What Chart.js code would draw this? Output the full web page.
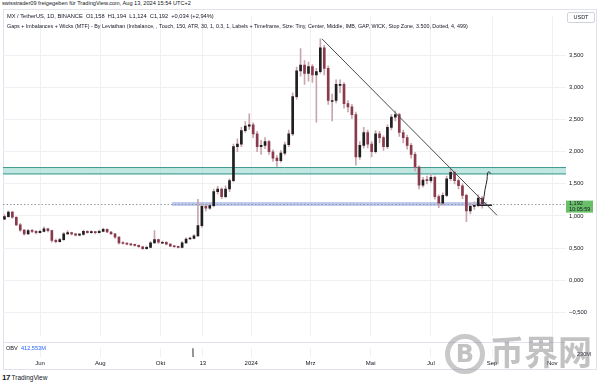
<!DOCTYPE html>
<html><head><meta charset="utf-8">
<script src="https://cdn.jsdelivr.net/npm/chart.js@4.4.1/dist/chart.umd.min.js"></script>
<style>
body{margin:0;background:#fff;}
#wrap{position:relative;width:600px;height:384px;overflow:hidden;background:#fff;font-family:"Liberation Sans",Arial,sans-serif;color:#131722;}
.t{position:absolute;white-space:nowrap;line-height:1;}
#frame{position:absolute;left:3px;top:9px;width:594px;height:361px;border:1px solid #e0e3eb;box-sizing:border-box;}
#sep{position:absolute;left:3px;top:342px;width:563px;height:1px;background:#e0e3eb;}
#usdt{position:absolute;left:567px;top:12px;width:28px;height:11px;border:1px solid #d1d4dc;border-radius:2px;box-sizing:border-box;font-size:5.5px;text-align:center;line-height:9px;background:#fff;}
#main{position:absolute;left:0;top:10px;}
#obv{position:absolute;left:0;top:342px;}
#wm{position:absolute;left:445px;top:332px;color:rgba(120,120,120,0.45);}
</style></head>
<body><div id="wrap">
<div id="frame"></div>
<canvas id="main" width="600" height="332"></canvas>
<canvas id="obv" width="600" height="27"></canvas>
<div id="sep"></div>
<div class="t" style="left:2px;top:1px;font-size:5.6px;">swisstrader09 freigegeben für TradingView.com, Aug 13, 2024 15:54 UTC+2</div>
<div class="t" style="left:7px;top:14px;font-size:5.7px;">MX / TetherUS, 1D, BINANCE&nbsp; O1,158&nbsp; H1,194&nbsp; L1,124&nbsp; C1,192&nbsp; +0,034 (+2,94%)</div>
<div class="t" style="left:7px;top:24px;font-size:5.35px;">Gaps + Imbalances + Wicks (MTF) - By Leviathan (Imbalance, , Touch, 150, ATR, 30, 1, 0.3, 1, Labels + Timeframe, Size: Tiny, Center, Middle, IMB, GAP, WICK, Stop Zone, 3.500, Dotted, 4, 499)</div>
<div id="usdt">USDT</div>
<div class="t" style="left:6px;top:346px;font-size:5.6px;">OBV&nbsp; <span style="color:#2962ff">412,553M</span></div>
<div class="t" style="left:2px;top:374px;font-size:6.5px;"><b style="font-size:8px;letter-spacing:-0.5px">17</b> TradingView</div>
<div id="wm">
  <div style="position:absolute;left:0;top:2px;width:30px;height:30px;border:5px solid rgba(120,120,120,0.4);border-radius:50%;text-align:center;font:bold 24px 'DejaVu Sans';line-height:30px;">B</div>
  <div style="position:absolute;left:45px;top:0;font:bold 34px 'Noto Sans CJK SC';line-height:38px;white-space:nowrap;">币界网</div>
</div>
</div>
<script>
// ---------- data ----------
const candleStartDay = -40;   // days relative to 1 Jun 2023
const candleStepDays = 4;
const opens  = [0.93,0.95,0.99,1.06,0.98,0.86,0.78,0.72,0.77,0.76, 0.74,0.76,0.80,0.77,0.62,0.60,0.63,0.72,0.74,0.72, 0.70,0.71,0.76,0.74,0.75,0.74,0.76,0.79,0.75,0.72, 0.67,0.58,0.57,0.56,0.55,0.54,0.52,0.49,0.51,0.58, 0.63,0.59,0.59,0.56,0.53,0.52,0.51,0.58,0.64,0.65, 0.69,0.85,1.15,1.12,1.16,1.38,1.42,1.30,1.42,1.55, 2.08,2.12,2.33,2.40,2.42,2.28,2.08,2.10,2.16,2.00, 1.90,1.86,1.98,2.11,2.28,2.86,3.26,3.35,3.22,3.33, 3.20,3.25,3.62,3.30,2.80,2.80,3.05,3.05,2.75,2.70, 2.58,1.92,2.10,2.30,2.12,2.00,2.28,2.22,2.08,2.38, 2.54,2.58,2.30,2.22,2.10,1.96,1.76,1.48,1.56,1.55, 1.60,1.30,1.20,1.32,1.58,1.68,1.55,1.47,1.32,1.08, 1.15,1.16,1.28];
const highs  = [0.98,1.02,1.08,1.07,0.99,0.88,0.79,0.79,0.79,0.77, 0.78,0.83,0.81,0.78,0.64,0.65,0.74,0.77,0.75,0.73, 0.73,0.78,0.77,0.77,0.76,0.78,0.81,0.80,0.76,0.73, 0.68,0.60,0.58,0.57,0.56,0.55,0.53,0.53,0.60,0.77, 0.64,0.61,0.60,0.57,0.54,0.53,0.60,0.66,0.67,0.71, 1.26,1.20,1.19,1.20,1.42,1.46,1.44,1.47,1.58,2.12, 2.20,2.38,2.47,2.59,2.45,2.32,2.18,2.22,2.18,2.03, 1.94,2.02,2.15,2.34,2.92,3.32,3.61,3.42,3.40,3.36, 3.30,3.76,3.66,3.34,2.90,3.12,3.12,3.08,2.80,2.74, 2.62,2.16,2.38,2.34,2.16,2.33,2.32,2.25,2.42,2.58, 2.64,2.60,2.34,2.26,2.13,1.99,1.78,1.60,1.62,1.66, 1.62,1.33,1.36,1.62,1.73,1.70,1.58,1.50,1.34,1.20, 1.22,1.33,1.30];
const lows   = [0.91,0.94,0.98,0.96,0.85,0.76,0.70,0.71,0.74,0.72, 0.73,0.75,0.75,0.59,0.58,0.59,0.62,0.71,0.70,0.69, 0.69,0.70,0.73,0.73,0.72,0.73,0.75,0.74,0.71,0.65, 0.56,0.56,0.55,0.54,0.53,0.51,0.48,0.48,0.50,0.57, 0.57,0.57,0.55,0.52,0.51,0.50,0.50,0.57,0.63,0.64, 0.68,0.82,1.08,1.10,1.14,1.34,1.27,1.28,1.38,1.53, 2.00,2.08,2.30,2.35,2.22,2.00,1.96,2.05,1.96,1.85, 1.77,1.84,1.95,2.08,2.25,2.82,3.18,3.05,3.10,3.08, 2.46,3.22,3.20,2.74,2.48,2.76,2.92,2.68,2.62,2.52, 1.79,1.88,2.06,2.06,1.92,1.98,2.14,2.02,2.05,2.34, 2.48,2.24,2.14,2.04,1.90,1.70,1.42,1.45,1.50,1.52, 1.26,1.13,1.17,1.30,1.55,1.50,1.42,1.27,0.91,1.03, 1.10,1.14,1.12];
const closes = [0.95,0.99,1.06,0.98,0.86,0.78,0.72,0.77,0.76,0.74, 0.76,0.80,0.77,0.62,0.60,0.63,0.72,0.74,0.72,0.70, 0.71,0.76,0.74,0.75,0.74,0.76,0.79,0.75,0.72,0.67, 0.58,0.57,0.56,0.55,0.54,0.52,0.49,0.51,0.58,0.63, 0.59,0.59,0.56,0.53,0.52,0.51,0.58,0.64,0.65,0.69, 0.85,1.15,1.12,1.16,1.38,1.42,1.30,1.42,1.55,2.08, 2.12,2.33,2.40,2.42,2.28,2.08,2.10,2.16,2.00,1.90, 1.86,1.98,2.11,2.28,2.86,3.26,3.35,3.22,3.33,3.20, 3.25,3.62,3.30,2.80,2.80,3.05,3.05,2.75,2.70,2.58, 1.92,2.10,2.30,2.12,2.00,2.28,2.22,2.08,2.38,2.54, 2.58,2.30,2.22,2.10,1.96,1.76,1.48,1.56,1.55,1.60, 1.30,1.20,1.32,1.58,1.68,1.55,1.47,1.32,1.08,1.15, 1.16,1.28,1.192];
const lastPrice = 1.192;
const lastPriceLabel = '1,192';
const countdownLabel = '10:05:59';
const priceTicks = [-0.5,0,0.5,1,1.5,2,2.5,3,3.5];
const timeTickDays = [0,61,122,165,214,274,335,396,458,519];
const timeTickLabels = ['Jun','Aug','Okt','13','2024','Mrz','Mai','Jul','Sep','Nov'];
const trendDays = [285.7,463];
const trendPrices = [3.76,1.01];
const projDays = [448.8,450.9,452.9,453.4,454.9,456.4];
const projPrices = [1.188,1.413,1.563,1.667,1.69,1.66];
const bracketDays = [443.7,457.9];
const bracketPrices = [1.165,1.165];
const tealZonePrices = [1.762,1.663,1.645];   // top, inner line, bottom
const blueZoneDays = [133.7,452.9];
const blueZonePrices = [1.216,1.156];
const obvDays = [150,154.5,155.5,160];
const obvValues = [900,700,-200,-400];
const obvTicks = [230];

// ---------- layout ----------
const X_MIN = -37.49, X_MAX = 532.9;
const UP = '#1f1f1f', DOWN = '#8a3a4c', WICK = '#c9a6ae';
const GRID = '#eef0f4';
const FONT = "'Liberation Sans', Arial, sans-serif";
Chart.defaults.font.family = FONT;
Chart.defaults.color = '#131722';

const dayOf = i => candleStartDay + i*candleStepDays;
const fmtPrice = v => (v<0?'\u2212':'') + Math.abs(v).toFixed(3).replace('.',',');

const zonePlugin = {
  id:'zones',
  beforeDatasetsDraw(chart){
    const {ctx, chartArea:a, scales:{x,y}} = chart;
    ctx.save();
    ctx.beginPath(); ctx.rect(a.left,a.top,a.right-a.left,a.bottom-a.top); ctx.clip();
    // teal zone
    const t0=y.getPixelForValue(tealZonePrices[0]), t1=y.getPixelForValue(tealZonePrices[1]), t2=y.getPixelForValue(tealZonePrices[2]);
    ctx.fillStyle='rgba(150,215,205,0.6)';
    ctx.fillRect(a.left,t0,a.right-a.left,t2-t0);
    ctx.strokeStyle='#3e9a8e'; ctx.lineWidth=1;
    ctx.beginPath(); ctx.moveTo(a.left,t0+0.5); ctx.lineTo(a.right,t0+0.5);
    ctx.moveTo(a.left,t1+0.5); ctx.lineTo(a.right,t1+0.5); ctx.stroke();
    // blue zone
    const bx0=x.getPixelForValue(blueZoneDays[0]), bx1=x.getPixelForValue(blueZoneDays[1]);
    const by0=y.getPixelForValue(blueZonePrices[0]), by1=y.getPixelForValue(blueZonePrices[1]);
    ctx.fillStyle='rgba(140,165,225,0.6)';
    ctx.fillRect(bx0,by0,bx1-bx0,by1-by0);
    // current price dotted line
    const py=Math.round(y.getPixelForValue(lastPrice))+0.5;
    ctx.strokeStyle='#9598a1'; ctx.setLineDash([1.5,2]);
    ctx.beginPath(); ctx.moveTo(a.left,py); ctx.lineTo(a.right,py); ctx.stroke();
    ctx.restore();
  },
  afterDraw(chart){
    const {ctx, chartArea:a, scales:{y}} = chart;
    const py=y.getPixelForValue(lastPrice);
    ctx.save();
    ctx.fillStyle='#6abf69'; ctx.strokeStyle='#4e9f50'; ctx.lineWidth=1;
    ctx.fillRect(a.right, py-3, 27, 12);
    ctx.fillStyle='#131722'; ctx.font="5.5px "+FONT; ctx.textBaseline='middle'; ctx.textAlign='left';
    ctx.fillText(lastPriceLabel, a.right+3, py);
    ctx.fillText(countdownLabel, a.right+3, py+5.5);
    ctx.restore();
  }
};

new Chart(document.getElementById('main'), {
  type:'bar',
  data:{datasets:[
    {label:'wicks', grouped:false, barThickness:1, order:3,
     data: closes.map((c,i)=>({x:dayOf(i), y:[lows[i],highs[i]]})),
     backgroundColor: WICK},
    {label:'bodies', grouped:false, barThickness:2, minBarLength:1, order:2,
     data: closes.map((c,i)=>({x:dayOf(i), y:[opens[i],c]})),
     backgroundColor: closes.map((c,i)=> c>=opens[i]?UP:DOWN)},
    {type:'line', label:'trend', order:1, data: trendDays.map((d,i)=>({x:d,y:trendPrices[i]})),
     borderColor:'#4a4a4a', borderWidth:1, pointRadius:0},
    {type:'line', label:'projection', order:1, data: projDays.map((d,i)=>({x:d,y:projPrices[i]})),
     borderColor:'#222', borderWidth:1, pointRadius:0, tension:0.3},
    {type:'line', label:'bracket', order:1, data: bracketDays.map((d,i)=>({x:d,y:bracketPrices[i]})),
     borderColor:'#222', borderWidth:1.5, pointRadius:0}
  ]},
  options:{
    responsive:false, animation:false, devicePixelRatio:1,
    layout:{padding:{left:3,right:0,top:0,bottom:0}},
    plugins:{legend:{display:false}, tooltip:{enabled:false}},
    scales:{
      x:{type:'linear', min:X_MIN, max:X_MAX, offset:false,
         grid:{color:GRID, offset:false, drawTicks:false}, border:{display:false},
         ticks:{display:false},
         afterBuildTicks:s=>{s.ticks=timeTickDays.map(v=>({value:v}));},
         afterFit:s=>{s.height=0;}},
      y:{position:'right', min:-0.864, max:4.109,
         grid:{color:GRID, drawTicks:false}, border:{display:false},
         ticks:{padding:3, font:{size:5.8}, color:'#131722', callback:v=>fmtPrice(v)},
         afterBuildTicks:s=>{s.ticks=priceTicks.map(v=>({value:v}));},
         afterFit:s=>{s.width=34;}}
    }
  },
  plugins:[zonePlugin]
});

new Chart(document.getElementById('obv'), {
  type:'line',
  data:{datasets:[{data: obvDays.map((d,i)=>({x:d,y:obvValues[i]})), borderColor:'#2a2e39', borderWidth:1, pointRadius:0}]},
  options:{
    responsive:false, animation:false, devicePixelRatio:1,
    layout:{padding:{left:3,right:0,top:0,bottom:0}},
    plugins:{legend:{display:false}, tooltip:{enabled:false}},
    scales:{
      x:{type:'linear', min:X_MIN, max:X_MAX,
         grid:{color:GRID, drawTicks:false}, border:{display:false},
         ticks:{padding:3, autoSkip:false, maxRotation:0, font:{size:6}, color:'#131722',
                callback:(v)=>{const k=timeTickDays.indexOf(v); return k>=0?timeTickLabels[k]:'';}},
         afterBuildTicks:s=>{s.ticks=timeTickDays.map(v=>({value:v}));},
         afterFit:s=>{s.height=12;}},
      y:{position:'right', min:200, max:290,
         grid:{display:false}, border:{display:false},
         ticks:{padding:3, font:{size:5.6}, color:'#131722', callback:v=>v+'M'},
         afterBuildTicks:s=>{s.ticks=obvTicks.map(v=>({value:v}));},
         afterFit:s=>{s.width=34;}}
    }
  }
});
</script>
</body></html>
